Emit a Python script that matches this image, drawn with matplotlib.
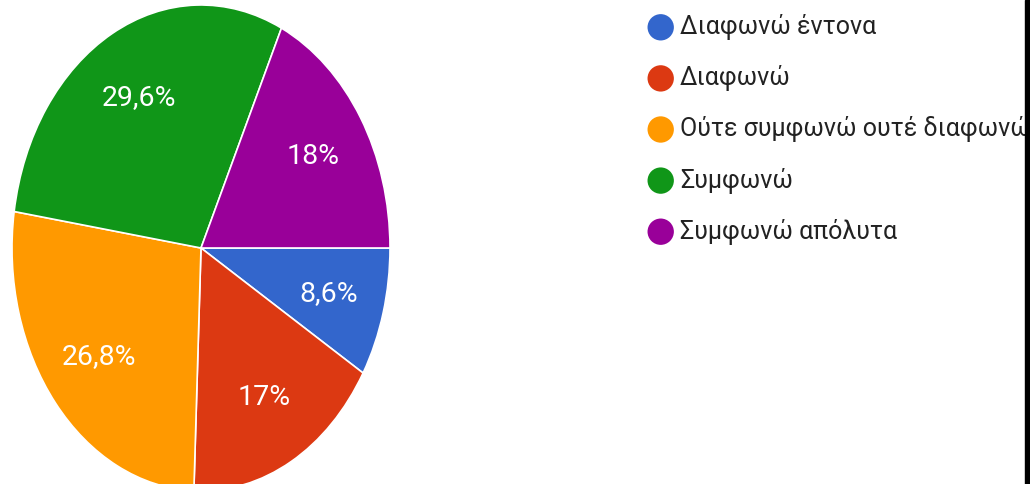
import matplotlib
matplotlib.use("Agg")
import matplotlib.pyplot as plt
from matplotlib.patches import Rectangle

categories = ["Διαφωνώ έντονα", "Διαφωνώ", "Ούτε συμφωνώ ουτέ διαφωνώ", "Συμφωνώ", "Συμφωνώ απόλυτα"]
values = [8.6, 17, 26.8, 29.6, 18]
colors = ["#3366CC", "#DC3912", "#FF9900", "#109618", "#990099"]

plt.rcParams['font.family'] = ['Roboto', 'DejaVu Sans']

W, H = 1030, 484
fig = plt.figure(figsize=(W / 100, H / 100), dpi=100)
fig.patch.set_facecolor("white")

# pie axes (elliptical, stretched vertically as in reference)
cx, cy, rx, ry = 201.0, 248, 189, 243
ax = fig.add_axes([(cx - rx) / W, (H - cy - ry) / H, 2 * rx / W, 2 * ry / H])


def fmt(p):
    s = f"{round(p, 1):g}%"
    return s.replace(".", ",")


wedges, _, autotexts = ax.pie(
    values, colors=colors, startangle=0, counterclock=False,
    autopct=fmt, pctdistance=0.7, radius=1.0,
    wedgeprops=dict(edgecolor="white", linewidth=1.2),
    textprops=dict(color="white", fontsize=20.5),
)
ax.set_aspect("auto")
ax.set_xlim(-1, 1)
ax.set_ylim(-1, 1)
ax.axis("off")

# legend drawn in a pixel-coordinate overlay axes
lax = fig.add_axes([0, 0, 1, 1])
lax.set_xlim(0, W)
lax.set_ylim(H, 0)
lax.axis("off")
y0, dy = 27.3, 51.1
for i, (c, col) in enumerate(zip(categories, colors)):
    y = y0 + i * dy
    lax.scatter([660.7], [y], s=360, color=col, edgecolors="none")
    lax.text(680, y, c, fontsize=18, color="#222222", va="center", ha="left")

# dark bar at right edge
fig.add_artist(Rectangle((1025 / W, 0), 5 / W, 1, transform=fig.transFigure,
                         color="black", zorder=10))

fig.savefig("out.png", dpi=100)
